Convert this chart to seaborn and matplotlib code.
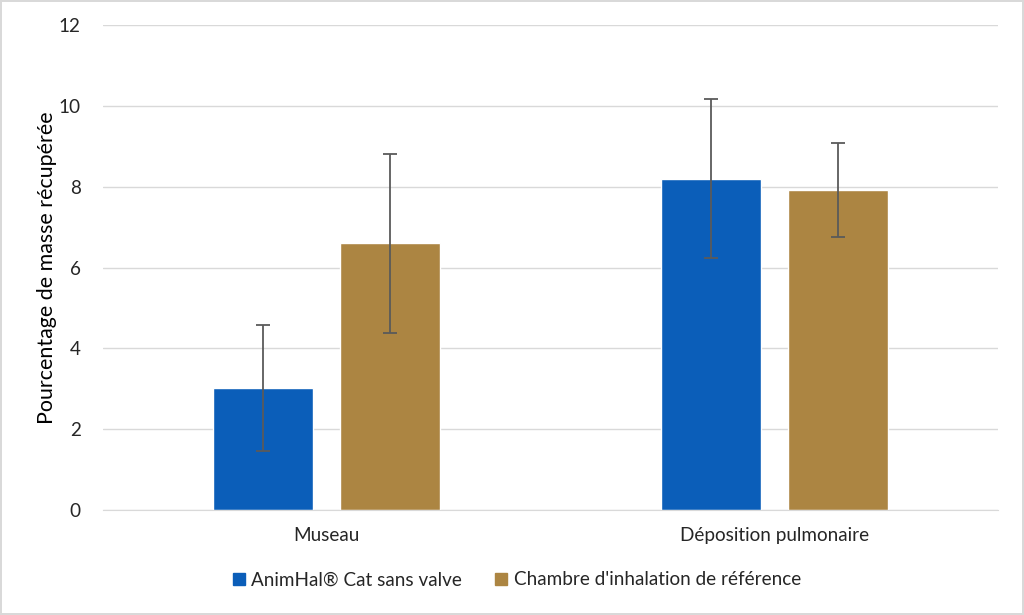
import pandas as pd
import seaborn as sns
import matplotlib.pyplot as plt
from matplotlib.lines import Line2D

# Data
categories = ['Museau', 'Déposition pulmonaire']
series = ['AnimHal® Cat sans valve', "Chambre d'inhalation de référence"]
animhal_values = [3.02, 8.20]
animhal_errors = [1.55, 1.97]
chambre_values = [6.60, 7.92]
chambre_errors = [2.22, 1.16]
colors = ['#0B5EB9', '#AC8542']

df = pd.DataFrame({
    'Categorie': categories * 2,
    'Serie': [series[0]] * 2 + [series[1]] * 2,
    'Valeur': animhal_values + chambre_values,
    'Erreur': animhal_errors + chambre_errors,
})

sns.set_style('white')
plt.rcParams['font.family'] = ['Lato', 'DejaVu Sans']

fig = plt.figure(figsize=(10.24, 6.15), dpi=100, edgecolor='#D9D9D9', linewidth=1.5)
ax = fig.add_axes([0.1006, 0.1707, 0.874, 0.7886])

sns.barplot(data=df, x='Categorie', y='Valeur', hue='Serie', order=categories,
            hue_order=series, palette=colors, width=0.567, gap=0.213,
            errorbar=None, saturation=1, ax=ax, legend=False)

# error bars at the bar centres
for patch_group, s in zip(ax.containers, series):
    sub = df[df['Serie'] == s].set_index('Categorie').loc[categories]
    xs = [p.get_x() + p.get_width() / 2 for p in patch_group]
    ax.errorbar(xs, sub['Valeur'], yerr=sub['Erreur'], fmt='none',
                ecolor='#5A5A5A', elinewidth=1.3, capsize=5, capthick=1.3)

ax.set_ylim(0, 12)
ax.set_xlim(-0.5, 1.5)
ax.set_yticks(range(0, 13, 2))
ax.yaxis.grid(True, color='#D9D9D9', linewidth=1)
ax.set_axisbelow(True)
for sp in ['top', 'right', 'left']:
    ax.spines[sp].set_visible(False)
ax.spines['bottom'].set_color('#D9D9D9')
ax.tick_params(axis='both', length=0, labelsize=13.6, labelcolor='#262626')
ax.tick_params(axis='y', pad=16)
ax.tick_params(axis='x', pad=12)
ax.set_xlabel('')
ax.set_ylabel('Pourcentage de masse récupérée', fontsize=15.4, color='#000000', labelpad=1)

handles = [Line2D([], [], marker='s', linestyle='none', markersize=9,
                  markerfacecolor=c, markeredgecolor=c) for c in colors]
fig.legend(handles, series, loc='center', bbox_to_anchor=(0.503, 0.057), ncol=2,
           frameon=False, fontsize=13.6, handletextpad=0.15, columnspacing=1.6,
           handlelength=1.0, labelcolor='#262626')

fig.savefig('out.png', dpi=100)
